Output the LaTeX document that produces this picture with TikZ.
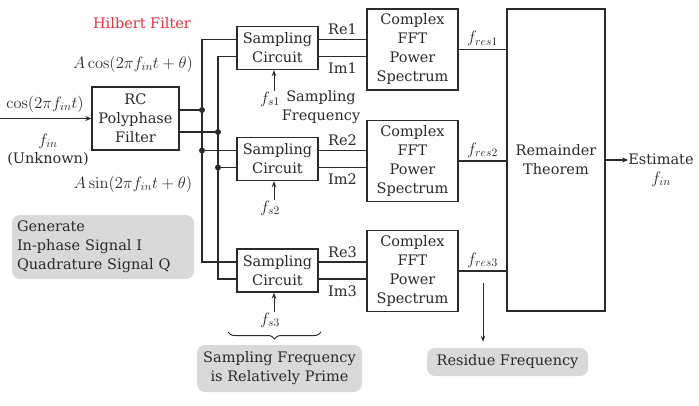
\RequirePackage{fix-cm}
\documentclass[tikz,border=0pt]{standalone}
\usepackage[no-math]{fontspec}
\setmainfont{DejaVu Serif}
\usetikzlibrary{arrows.meta,decorations.pathreplacing,calc}
\definecolor{hred}{HTML}{E8323C}
\definecolor{boxgray}{HTML}{D9D9D9}
\definecolor{ink}{HTML}{2A2A2A}
\begin{document}
\begin{tikzpicture}[x=1pt,y=-1pt,
  every node/.style={font=\fontsize{14.5}{19}\selectfont, text=ink, inner sep=0pt},
  mathlbl/.style={font=\fontsize{16.5}{19}\selectfont},
  wire/.style={draw=ink, line width=1.3pt},
  blk/.style={draw=ink, line width=1.3pt, align=center, inner sep=0pt},
  sampbox/.style={blk, minimum width=81pt, minimum height=43pt},
  fftbox/.style={blk, minimum width=91pt, minimum height=81pt},
  note/.style={fill=boxgray, rounded corners=8pt, inner sep=0pt},
  arr/.style={wire, -{Stealth[length=6pt,width=5pt]}},
  thinarr/.style={draw=ink, line width=1pt, -{Stealth[length=6pt,width=4.5pt]}},
  jdot/.style={circle, fill=ink, minimum size=6pt, inner sep=0pt}
]
\useasboundingbox (0,0) rectangle (699,406);

% blocks
\node[blk, minimum width=87pt, minimum height=63pt] (rc) at (135.5,118.5) {RC\\Polyphase\\Filter};
\node[sampbox] (sc1) at (277.5,48) {Sampling\\Circuit};
\node[sampbox] (sc2) at (277.5,159) {Sampling\\Circuit};
\node[sampbox] (sc3) at (277.5,270.5) {Sampling\\Circuit};
\node[fftbox] (fft1) at (412.5,49.5) {Complex\\FFT\\Power\\Spectrum};
\node[fftbox] (fft2) at (412.5,161) {Complex\\FFT\\Power\\Spectrum};
\node[fftbox] (fft3) at (412.5,271) {Complex\\FFT\\Power\\Spectrum};
\node[blk, minimum width=98pt, minimum height=302pt] (rem) at (556,160) {Remainder\\Theorem};
\node[align=center] (est) at (661,170) {Estimate\\{\fontsize{16.5}{19}\selectfont$f_{in}$}};

% labels
\node[text=hred] (hil) at (142,23) {Hilbert Filter};
\node[mathlbl] (acos) at (133,64) {$A\cos(2\pi f_{in}t+\theta)$};
\node[mathlbl] (asin) at (133,184) {$A\sin(2\pi f_{in}t+\theta)$};
\node[mathlbl] (cosin) at (45,104) {$\cos(2\pi f_{in}t)$};
\node[mathlbl] (finl) at (48,141) {$f_{in}$};
\node (unk) at (48,159) {(Unknown)};

% input
\coordinate (inp) at (0,118.5);
\draw[arr] (inp) -- (rc.west);

% bus
\coordinate (b1) at (202,110);
\coordinate (b2) at (218,132);
\foreach \i in {1,2,3}{
  \coordinate (s\i a) at ($(sc\i.west)+(0,-8.5)$);
  \coordinate (s\i b) at ($(sc\i.west)+(0,8.5)$);
  \coordinate (r\i a) at ($(sc\i.east)+(0,-8.5)$);
  \coordinate (r\i b) at ($(sc\i.east)+(0,8.5)$);
}
\draw[wire] (rc.east |- b1) -- (b1);
\draw[wire] (rc.east |- b2) -- (b2);
\draw[wire] (s1a) -| (s3a -| b1) -- (s3a);
\draw[wire] (s2a -| b1) -- (s2a);
\draw[wire] (s1b) -| (s3b -| b2) -- (s3b);
\draw[wire] (s2b -| b2) -- (s2b);
\node[jdot] (d1) at (b1) {};
\node[jdot] (d2) at (b2) {};
\node[jdot] (d3) at (s2a -| b1) {};
\node[jdot] (d4) at (s2b -| b2) {};

% Re / Im
\foreach \i in {1,2,3}{
  \draw[wire] (r\i a) -- (r\i a -| fft\i.west)
     node[midway, yshift=10pt] {Re\i};
  \draw[wire] (r\i b) -- (r\i b -| fft\i.west)
     node[midway, yshift=-12pt] {Im\i};
  \draw[wire] (fft\i.east) -- (fft\i.east -| rem.west)
     node[midway, yshift=11pt, mathlbl] {$f_{res\i}$};
}

% output
\draw[arr] (rem.east) -- (rem.east -| est.west);

% sampling frequencies
\node[mathlbl] (fs1) at (270,99) {$f_{s1}$};
\node[mathlbl] (fs2) at (270,208) {$f_{s2}$};
\node[mathlbl] (fs3) at (270,320) {$f_{s3}$};
\draw[thinarr] ([xshift=4pt]fs1.north) -- ([xshift=4pt]fs1.north |- sc1.south);
\draw[thinarr] ([xshift=4pt]fs2.north) -- ([xshift=4pt]fs2.north |- sc2.south);
\draw[thinarr] ([xshift=4pt]fs3.north) -- ([xshift=4pt]fs3.north |- sc3.south);
\node[align=center] (sfl) at (321,107.5) {Sampling\\Frequency};

% brace
\coordinate (br1) at (321,332);
\coordinate (br2) at (228,332);
\draw[draw=ink, line width=1pt, decorate, decoration={brace, amplitude=7pt}] (br1) -- (br2);

% notes
\node[note, minimum width=165pt, minimum height=47pt, align=center] (rp) at (279.5,368.5) {Sampling Frequency\\is Relatively Prime};
\node[note, minimum width=161pt, minimum height=28pt] (res) at (507.5,362) {Residue Frequency};
\node[note, text width=172pt, inner xsep=5pt, minimum height=64pt, align=left] (gen) at (103,247) {Generate\\In-phase Signal I\\Quadrature Signal Q};

\coordinate (rtop) at (483,283);
\draw[thinarr, shorten >=6pt] (rtop) -- (rtop |- res.north);
\end{tikzpicture}
\end{document}
